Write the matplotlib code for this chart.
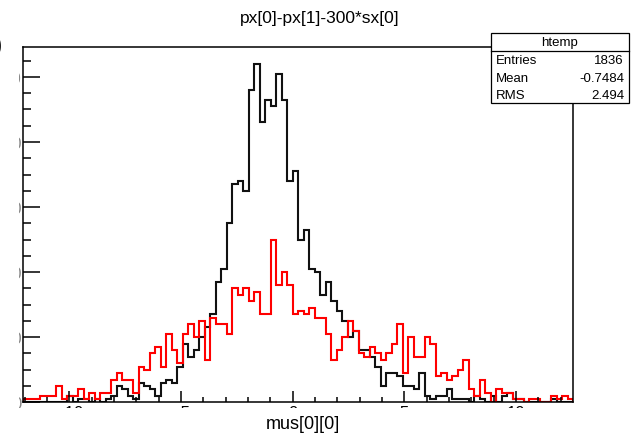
import numpy as np
import matplotlib
matplotlib.use('Agg')
import matplotlib.pyplot as plt
from matplotlib.patches import Rectangle
from matplotlib.ticker import MultipleLocator

plt.rcParams['font.family'] = ['Liberation Sans', 'DejaVu Sans']

# intervallo e binning scelti da ROOT per htemp
x_min, x_max, n_bins = -12.07, 12.56, 100

# conteggi per bin, istogramma nero (htemp)
conteggi_nero = [
    0, 0, 0, 0, 0, 0, 0, 0, 2, 0,
    1, 1, 0, 1, 0, 1, 2, 5, 4, 2,
    1, 6, 5, 4, 2, 6, 7, 6, 11, 18,
    14, 16, 20, 23, 27, 37, 41, 55, 67, 68,
    65, 96, 104, 86, 93, 91, 101, 93, 68, 71,
    50, 53, 41, 40, 33, 37, 31, 28, 25, 20,
    22, 16, 16, 14, 11, 5, 9, 9, 8, 5,
    5, 4, 9, 2, 1, 2, 2, 4, 1, 1,
    1, 0, 2, 1, 0, 2, 0, 2, 3, 1,
    1, 0, 0, 0, 0, 0, 1, 0, 0, 0,
]

# conteggi per bin, istogramma rosso (disegnato con "same")
conteggi_rosso = [
    1, 1, 1, 2, 2, 2, 5, 1, 2, 2,
    4, 1, 3, 1, 3, 3, 7, 9, 7, 7,
    3, 11, 10, 15, 17, 11, 21, 16, 12, 21,
    24, 20, 25, 13, 26, 24, 24, 21, 35, 33,
    35, 31, 34, 27, 27, 50, 36, 40, 36, 27,
    28, 27, 29, 26, 26, 21, 13, 16, 20, 25,
    22, 15, 14, 17, 15, 13, 15, 18, 24, 9,
    20, 14, 14, 20, 18, 8, 9, 7, 8, 10,
    13, 4, 2, 7, 3, 0, 4, 3, 3, 1,
    1, 0, 1, 1, 0, 0, 2, 1, 2, 1,
]

# statistiche di htemp
stat_nomi = ['Entries', 'Mean', 'RMS']
stat_valori = ['1836', '-0.7484', '2.494']

edges = np.linspace(x_min, x_max, n_bins + 1)
y_max = 1.05 * max(conteggi_nero)

W, H = 637, 435
fig = plt.figure(figsize=(W / 100, H / 100), dpi=100)
ax = fig.add_axes([23.2 / W, 1 - 403.3 / H, 550 / W, (403.3 - 48) / H])

ax.stairs(conteggi_nero, edges, color='#111111', lw=1.5)
ax.stairs(conteggi_rosso, edges, color='#ff0000', lw=1.5)

ax.set_xlim(x_min, x_max)
ax.set_ylim(0, y_max)

for s in ax.spines.values():
    s.set_linewidth(1.1)

ax.xaxis.set_major_locator(MultipleLocator(5))
ax.xaxis.set_minor_locator(MultipleLocator(1))
ax.yaxis.set_major_locator(MultipleLocator(20))
ax.yaxis.set_minor_locator(MultipleLocator(5))
ax.tick_params(axis='x', which='major', direction='in', length=7.6, width=1.1,
               labelsize=12, pad=2)
ax.tick_params(axis='x', which='minor', direction='in', length=3.8, width=1.1)
ax.tick_params(axis='y', which='major', direction='in', length=11.9, width=1.1,
               labelsize=12, pad=1, labelcolor='#888888')
ax.tick_params(axis='y', which='minor', direction='in', length=5.9, width=1.1)

# le etichette dei tick restano quasi nascoste sotto il bordo bianco
fig.add_artist(Rectangle((0, 0), 1, (H - 409) / H, transform=fig.transFigure,
                         facecolor='white', edgecolor='none', zorder=5))
fig.add_artist(Rectangle((0, 0), 19 / W, 1 - 60 / H, transform=fig.transFigure,
                         facecolor='white', edgecolor='none', zorder=5))

fig.text(-2 / W, 1 - 46 / H, ')', fontsize=18, ha='center', va='center', zorder=6)
fig.text(320 / W, 1 - 18 / H, 'px[0]-px[1]-300*sx[0]', fontsize=12.5,
         ha='center', va='center')
fig.text(303 / W, 1 - 425 / H, 'mus[0][0]', fontsize=13, ha='center',
         va='center', zorder=6)

# box delle statistiche
bx0, bx1, by0, by1, bsep = 491, 629, 34, 104, 51.7
fig.add_artist(Rectangle((bx0 / W, 1 - by1 / H), (bx1 - bx0) / W, (by1 - by0) / H,
                         transform=fig.transFigure, facecolor='white',
                         edgecolor='black', lw=0.9, zorder=7))
fig.add_artist(plt.Line2D([bx0 / W, bx1 / W], [1 - bsep / H, 1 - bsep / H],
                          transform=fig.transFigure, color='black', lw=0.9, zorder=8))
fig.text((bx0 + bx1) / 2 / W, 1 - 43 / H, 'htemp', fontsize=9.5, ha='center',
         va='center', zorder=8)
for i, (nome, val) in enumerate(zip(stat_nomi, stat_valori)):
    yy = 1 - (61 + 17.5 * i) / H
    fig.text((bx0 + 5) / W, yy, nome, fontsize=9.5, ha='left', va='center', zorder=8)
    fig.text((bx1 - 5) / W, yy, val, fontsize=9.5, ha='right', va='center', zorder=8)

fig.savefig('out.png', dpi=100)
